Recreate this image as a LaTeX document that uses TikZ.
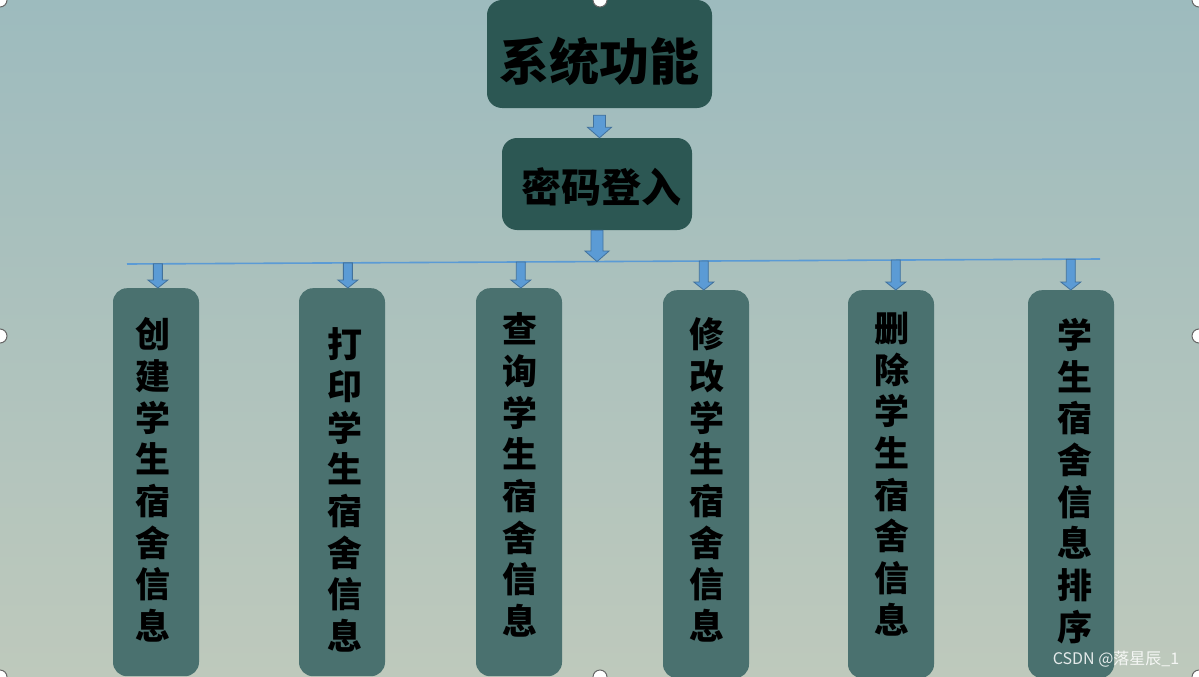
\documentclass[tikz,border=0pt]{standalone}
\usepackage{fontspec}
\setmainfont{Noto Sans CJK SC}
\usetikzlibrary{calc}
\definecolor{skytop}{HTML}{9DBBBE}
\definecolor{skymid}{HTML}{A6C0BF}
\definecolor{skybot}{HTML}{BEC9BC}
\definecolor{darkteal}{HTML}{2C5753}
\definecolor{softteal}{HTML}{4A716F}
\definecolor{arrowblue}{HTML}{5B9BD5}
\definecolor{arrowedge}{HTML}{41719C}

\begin{document}
\begin{tikzpicture}[
  x=1pt,y=-1pt,
  topbox/.style={fill=darkteal,rounded corners=15pt,inner sep=0pt},
  subbox/.style={fill=softteal,rounded corners=14pt,minimum width=86pt,minimum height=388pt,inner sep=0pt,anchor=north},
  vtext/.style={inner sep=0pt,align=center,font=\bfseries\fontsize{35}{41.7}\selectfont},
  bus/.style={draw=arrowblue,line width=1.6pt},
  blockarrow/.style={fill=arrowblue,draw=arrowedge,line width=0.8pt,
    to path={let \p1=(\tikztostart),\p2=(\tikztotarget) in
      (\x1-\arrshaft,\y1) -- (\x1+\arrshaft,\y1) -- (\x1+\arrshaft,\y2+\arrlen) -- (\x1+\arrhead,\y2+\arrlen)
      -- (\x1,\y2) -- (\x1-\arrhead,\y2+\arrlen) -- (\x1-\arrshaft,\y2+\arrlen) -- cycle}},
  bigarrow/.style={blockarrow,/utils/exec={\def\arrshaft{6pt}\def\arrhead{12pt}\def\arrlen{10.5pt}}},
  smallarrow/.style={blockarrow,/utils/exec={\def\arrshaft{4.5pt}\def\arrhead{10pt}\def\arrlen{8pt}}}
]
\useasboundingbox (0,0) rectangle (1199,677);
\fill[top color=skytop,middle color=skymid,bottom color=skybot] (0,0) rectangle (1199,677);

\node[topbox,minimum width=225pt,minimum height=108pt,font=\bfseries\fontsize{50}{60}\selectfont,text height=60pt,text depth=6pt] (sys) at (599.5,54) {系统功能};
\node[topbox,minimum width=190pt,minimum height=92pt,font=\bfseries\fontsize{40}{48}\selectfont,text height=41pt,text depth=5pt] (login) at (597,184) {\hspace*{8pt}密码登入};

\node[subbox] (create) at (156,288) {};
\node[subbox] (print) at (342,288) {};
\node[subbox] (query) at (519,288) {};
\node[subbox] (modify) at (706,290) {};
\node[subbox] (delete) at (891,290) {};
\node[subbox] (sort) at (1071,290) {};

\node[vtext] (createtxt) at (153,480) {创\\建\\学\\生\\宿\\舍\\信\\息};
\node[vtext] (printtxt) at (345,490) {打\\印\\学\\生\\宿\\舍\\信\\息};
\node[vtext] (querytxt) at (520,475) {查\\询\\学\\生\\宿\\舍\\信\\息};
\node[vtext] (modifytxt) at (707,480) {修\\改\\学\\生\\宿\\舍\\信\\息};
\node[vtext] (deletetxt) at (892,474) {删\\除\\学\\生\\宿\\舍\\信\\息};
\node[vtext] (sorttxt) at (1075,481) {学\\生\\宿\\舍\\信\\息\\排\\序};

\coordinate (busL) at (127,264);
\coordinate (busR) at (1100,259);
\draw[bus] (busL) -- (busR);

\draw[bigarrow] ([yshift=-7pt]sys.south) to (login.north);
\draw[bigarrow] (login.south) to ($(busL)!(login.south)!(busR)$);
\draw[smallarrow] ($(busL)!([xshift=2pt]create.north)!(busR)$) to ([xshift=2pt]create.north);
\draw[smallarrow] ($(busL)!([xshift=6pt]print.north)!(busR)$) to ([xshift=6pt]print.north);
\draw[smallarrow] ($(busL)!([xshift=2pt]query.north)!(busR)$) to ([xshift=2pt]query.north);
\draw[smallarrow] ($(busL)!([xshift=-2pt]modify.north)!(busR)$) to ([xshift=-2pt]modify.north);
\draw[smallarrow] ($(busL)!([xshift=5pt]delete.north)!(busR)$) to ([xshift=5pt]delete.north);
\draw[smallarrow] ($(busL)!(sort.north)!(busR)$) to (sort.north);

\node[text=white,opacity=0.85,font=\fontsize{16}{19}\selectfont] (mark) at (1116,659) {CSDN @落星辰\_1};

% selection handles
\foreach \hx/\hy in {0/0,600/0,1199/0,0/336,1199/336,0/677,600/677,1199/677}
  \filldraw[fill=white,draw=black!60,line width=1pt] (\hx,\hy) circle[radius=7pt];
\end{tikzpicture}
\end{document}
